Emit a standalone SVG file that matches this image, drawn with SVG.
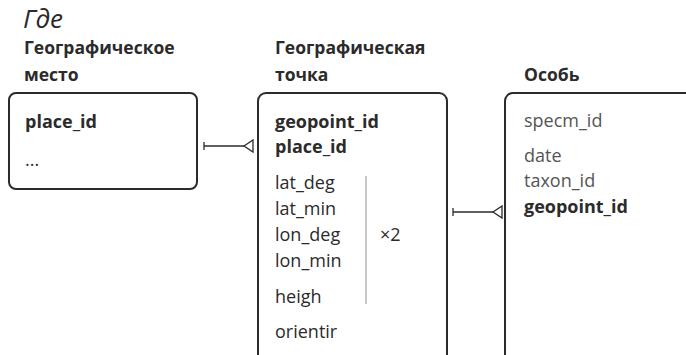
<svg xmlns="http://www.w3.org/2000/svg" width="686" height="355" viewBox="0 0 686 355">
<style>
  .t { font-family: "Open Sans", "Noto Sans", sans-serif; fill: #2b2b2b; }
  .h { font-size: 17.5px; font-weight: 700; }
  .f { font-size: 18px; }
  .b { font-weight: 700; }
  .g { fill: #555; }
  .box { fill: #fff; stroke: #2b2b2b; stroke-width: 2; }
  .ln { stroke: #2b2b2b; stroke-width: 1.3; fill: none; }
</style>
<rect width="686" height="355" fill="#fff"/>
<text class="t" x="23" y="28" font-size="26" font-style="italic">Где</text>

<g id="place">
  <text class="t h" x="24" y="54">Географическое</text>
  <text class="t h" x="24" y="81">место</text>
  <rect class="box" x="9" y="93" width="188" height="96" rx="7"/>
  <text class="t f b" x="25" y="128">place_id</text>
  <text class="t f" x="25" y="166">...</text>
</g>

<g id="geopoint">
  <text class="t h" x="275" y="54">Географическая</text>
  <text class="t h" x="275" y="81">точка</text>
  <rect class="box" x="258" y="93" width="189" height="270" rx="8"/>
  <text class="t f b" x="275" y="128">geopoint_id</text>
  <text class="t f b" x="275" y="153">place_id</text>
  <text class="t f" x="275" y="189">lat_deg</text>
  <text class="t f" x="275" y="215">lat_min</text>
  <text class="t f" x="275" y="241">lon_deg</text>
  <text class="t f" x="275" y="267">lon_min</text>
  <text class="t f" x="275" y="303">heigh</text>
  <text class="t f" x="275" y="338">orientir</text>
  <line x1="366" y1="176" x2="366" y2="304" stroke="#aaa" stroke-width="1.3"/>
  <text class="t f" x="380" y="241">×2</text>
</g>

<g id="specimen">
  <text class="t h" x="524" y="81">Особь</text>
  <rect class="box" x="505" y="93" width="200" height="270" rx="8"/>
  <text class="t f g" x="524" y="127">specm_id</text>
  <text class="t f g" x="524" y="162">date</text>
  <text class="t f g" x="524" y="187">taxon_id</text>
  <text class="t f b" x="524" y="213">geopoint_id</text>
</g>

<g id="connectors">
  <line class="ln" x1="204" y1="146" x2="244" y2="146"/>
  <line class="ln" x1="204" y1="142" x2="204" y2="150"/>
  <polygon class="ln" points="244,146 253,140 253,152"/>
  <line class="ln" x1="453" y1="212" x2="493" y2="212"/>
  <line class="ln" x1="453" y1="208" x2="453" y2="216"/>
  <polygon class="ln" points="493,212 502,206 502,218"/>
</g>
</svg>
